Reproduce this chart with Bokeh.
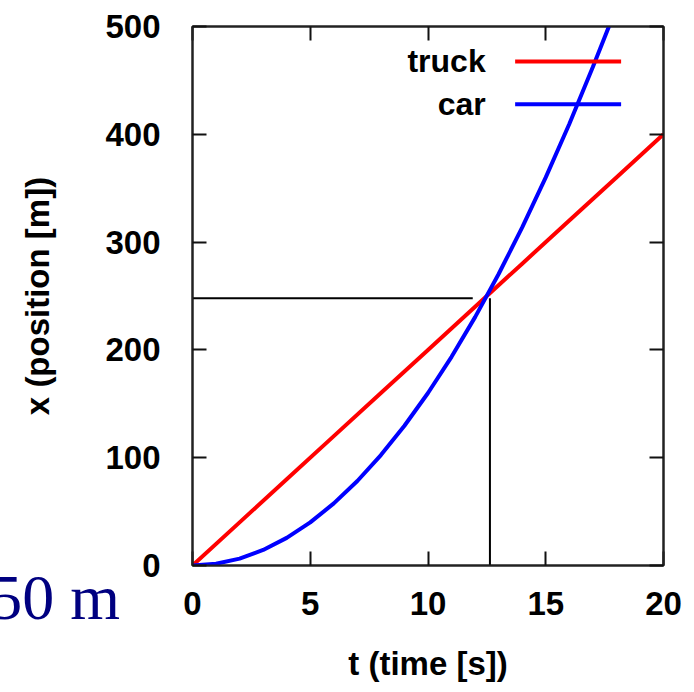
from bokeh.plotting import figure
from bokeh.models import Range1d, LinearAxis, FixedTicker, Label, Div
from bokeh.layouts import column
from bokeh.embed import file_html
from bokeh.resources import INLINE

# ---- data ----
truck_t = [0, 2, 4, 6, 8, 10, 12, 14, 16, 18, 20]
truck_x = [0, 40, 80, 120, 160, 200, 240, 280, 320, 360, 400]

car_t = [0, 1, 2, 3, 4, 5, 6, 7, 8, 9, 10, 11, 12, 13, 14, 15, 16, 17, 17.7]
car_x = [0, 1.6, 6.4, 14.4, 25.6, 40, 57.6, 78.4, 102.4, 129.6, 160, 193.6,
         230.4, 270.4, 313.6, 360, 409.6, 462.4, 501]

# crossing guide lines
guide_h_t = [0, 11.9]
guide_h_x = [248, 248]
guide_v_t = [12.63, 12.63]
guide_v_x = [0, 248]

x_ticks = [0, 5, 10, 15, 20]
y_ticks = [0, 100, 200, 300, 400, 500]

series_names = ["truck", "car"]
series_colors = ["#ff0000", "#0000ff"]

FONT = "Liberation Sans"
W, H = 686, 684

p = figure(width=W, height=H, output_backend="svg", toolbar_location=None,
           x_range=Range1d(0, 20), y_range=Range1d(0, 500),
           min_border_left=192, min_border_right=23,
           min_border_top=26, min_border_bottom=118)
p.background_fill_color = "white"
p.border_fill_color = None
p.xgrid.visible = False
p.ygrid.visible = False
p.outline_line_color = "#222222"
p.outline_line_width = 2
p.outline_line_alpha = 1

def style_axis(ax, ticks, show_labels):
    ax.ticker = FixedTicker(ticks=ticks)
    ax.minor_tick_line_color = None
    ax.major_tick_in = 14
    ax.major_tick_out = 0
    ax.major_tick_line_width = 2
    ax.major_tick_line_color = "#111111"
    ax.axis_line_color = "#222222"
    ax.axis_line_width = 2
    ax.major_label_text_font = FONT
    ax.major_label_text_font_style = "bold"
    ax.major_label_text_color = "black"
    ax.major_label_text_font_size = "33px"
    ax.axis_label_text_font = FONT
    ax.axis_label_text_font_style = "bold"
    ax.axis_label_text_color = "black"
    ax.axis_label_text_font_size = "33px"
    if not show_labels:
        ax.major_label_overrides = {t: "" for t in ticks}
        ax.major_label_standoff = 0

xa = p.xaxis[0]
ya = p.yaxis[0]
style_axis(xa, x_ticks, True)
style_axis(ya, y_ticks, True)
xa.axis_label = "t (time [s])"
ya.axis_label = "x (position [m])"
xa.major_label_standoff = 26
xa.axis_label_standoff = 27
ya.major_label_standoff = 32
ya.axis_label_standoff = 46

top = LinearAxis()
style_axis(top, x_ticks, False)
p.add_layout(top, "above")
right = LinearAxis()
style_axis(right, y_ticks, False)
p.add_layout(right, "right")

# series
p.line(truck_t, truck_x, line_color=series_colors[0], line_width=4)
p.line(car_t, car_x, line_color=series_colors[1], line_width=4)

# guides
p.line(guide_h_t, guide_h_x, line_color="black", line_width=2)
p.line(guide_v_t, guide_v_x, line_color="black", line_width=2)

# legend (gnuplot style: text then sample)
leg_y = [467.6, 427.8]
for name, col, yy in zip(series_names, series_colors, leg_y):
    p.add_layout(Label(x=12.45, y=yy, text=name, text_align="right",
                       text_baseline="middle", text_font=FONT,
                       text_font_style="bold", text_font_size="32px",
                       text_color="black"))
    p.line([13.7, 18.2], [yy, yy], line_color=col, line_width=4)

# fragment of neighbouring slide text (outside the plot frame)
frag = Div(text="50 m", width=140, height=64,
           styles={"position": "absolute", "left": "-25px", "top": "561px",
                   "font-family": "Liberation Serif", "font-size": "64px",
                   "line-height": "64px", "color": "#000080",
                   "white-space": "nowrap", "text-align": "right",
                   "pointer-events": "none"})

open("out.html", "w").write(file_html(column(p, frag), INLINE))
